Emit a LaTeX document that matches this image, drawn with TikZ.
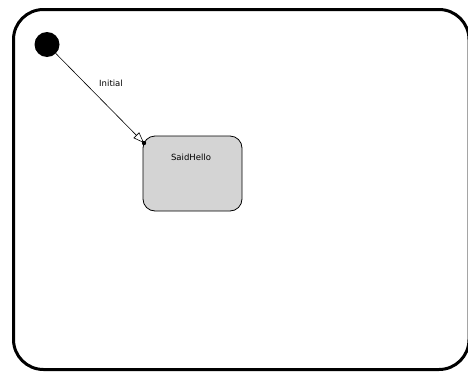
\documentclass[tikz,border=0pt]{standalone}
\usepackage{fontspec}
\setmainfont{DejaVu Sans}
\usetikzlibrary{arrows.meta}
\begin{document}
\begin{tikzpicture}[x=1pt,y=-1pt,
  frame/.style={draw=black,line width=3pt,rounded corners=30pt},
  statebox/.style={draw=black,line width=0.8pt,fill={rgb,255:red,212;green,212;blue,212},rounded corners=12pt,minimum width=99pt,minimum height=75pt,inner sep=0pt},
  initdot/.style={circle,fill=black,minimum size=25pt,inner sep=0pt},
  lbl/.style={font=\fontsize{8.5}{10}\selectfont,inner sep=1pt}]
\useasboundingbox (0,0) rectangle (468,375);
\clip (0,0) rectangle (468,375);
\draw[frame] (13.5,9.5) rectangle (469,369.5);
\node[initdot] (init) at (47,44.5) {};
\node[statebox] (said) at (192.5,173.5) {};
\node[lbl] (saidlbl) at (191,157) {SaidHello};
\coordinate (entry) at (144,143);
\fill (entry) circle (2.2pt);
\draw[line width=0.6pt,-{Triangle[open,length=11pt,width=8pt]}] (init) -- (entry);
\node[lbl] (initlbl) at (111,83) {Initial};
\end{tikzpicture}
\end{document}
